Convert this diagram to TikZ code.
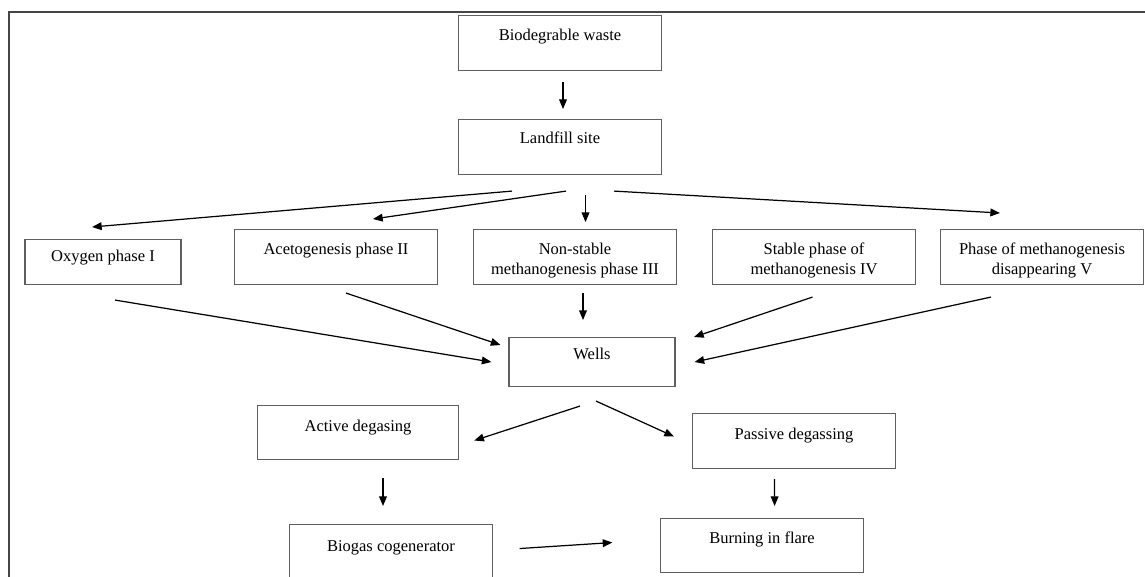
\documentclass[tikz,border=0pt]{standalone}
\usepackage{fontspec}
\setmainfont{Liberation Serif}
\usetikzlibrary{positioning,arrows.meta}
\definecolor{framegray}{RGB}{70,70,70}
\definecolor{boxgray}{RGB}{95,95,95}

\begin{document}
\begin{tikzpicture}[x=0.02cm, y=-0.02cm,
  stage/.style={draw=boxgray, line width=0.6pt, anchor=north, align=center, inner xsep=0pt, inner ysep=0pt, minimum width=4.06cm, text height=0.49cm, text depth=0.61cm, font=\fontsize{9.4}{11.4}\selectfont},
  twoline/.style={stage, text height=0.89cm, text depth=0.21cm},
  flow/.style={-{Triangle[length=5.5pt, width=4.4pt]}, line width=0.7pt},
]
\useasboundingbox (0,0) rectangle (1145,576);
\draw[framegray, line width=0.6pt] (9,12) rectangle (1170,600);
\node[stage] (bio) at (560,15) {Biodegrable waste};
\node[stage, below=0.96cm of bio, text height=0.47cm, text depth=0.63cm] (land) {Landfill site};
\node[stage, minimum width=3.12cm, text height=0.43cm, text depth=0.47cm] (oxy) at (103,239) {Oxygen phase I};
\node[stage] (aceto) at (336,229) {Acetogenesis phase II};
\node[twoline, right=0.7cm of aceto] (nonst) {Non-stable\\methanogenesis phase III};
\node[twoline, right=0.7cm of nonst] (stable) {Stable phase of\\methanogenesis IV};
\node[twoline, right=0.48cm of stable] (disap) {Phase of methanogenesis\\disappearing V};
\node[stage, minimum width=3.32cm, text height=0.43cm, text depth=0.55cm] (wells) at (592,337) {Wells};
\node[stage, minimum width=4.03cm, text height=0.51cm, text depth=0.57cm] (active) at (358,405) {Active degasing};
\node[stage, text height=0.51cm, text depth=0.59cm] (passive) at (794,413) {Passive degassing};
\node[stage, text height=0.53cm, text depth=0.57cm] (biogas) at (391,524) {Biogas cogenerator};
\node[stage, text height=0.49cm, text depth=0.59cm] (flare) at (762,518) {Burning in flare};
\draw[flow] ([shift={(3,11)}]bio.south) -- ([shift={(3,-10)}]land.north);
\draw[flow] ([shift={(-48,16)}]land.south) -- ([shift={(-11,-12)}]oxy.north);
\draw[flow] ([shift={(6,16)}]land.south) -- ([shift={(37,-10)}]aceto.north);
\draw[flow] ([shift={(25.5,20)}]land.south) -- ++(0,27);
\draw[flow] ([shift={(54,16)}]land.south) -- ([shift={(-42,-16)}]disap.north);
\draw[flow] ([shift={(12,15)}]oxy.south) -- ([shift={(-17,0)}]wells.west);
\draw[flow] ([shift={(10,8)}]aceto.south) -- ([shift={(-8,8)}]wells.north west);
\draw[flow] ([shift={(8,8)}]nonst.south) -- ++(0,27);
\draw[flow] ([shift={(-1.5,12)}]stable.south) -- ([shift={(18.5,0)}]wells.north east);
\draw[flow] ([shift={(-51,12)}]disap.south) -- ([shift={(19,0)}]wells.east);
\draw[flow] ([shift={(-12,19)}]wells.south) -- ([shift={(15,8)}]active.east);
\draw[flow] ([shift={(4,14)}]wells.south) -- ([shift={(-18,-4.5)}]passive.west);
\draw[flow] ([shift={(25,18)}]active.south) -- ([shift={(-8,-18)}]biogas.north);
\draw[flow] ([shift={(-19.4,10)}]passive.south) -- ([shift={(12.6,-12)}]flare.north);
\draw[flow] ([shift={(26.6,-3.5)}]biogas.east) -- ([shift={(-47.6,-3)}]flare.west);
\end{tikzpicture}
\end{document}
